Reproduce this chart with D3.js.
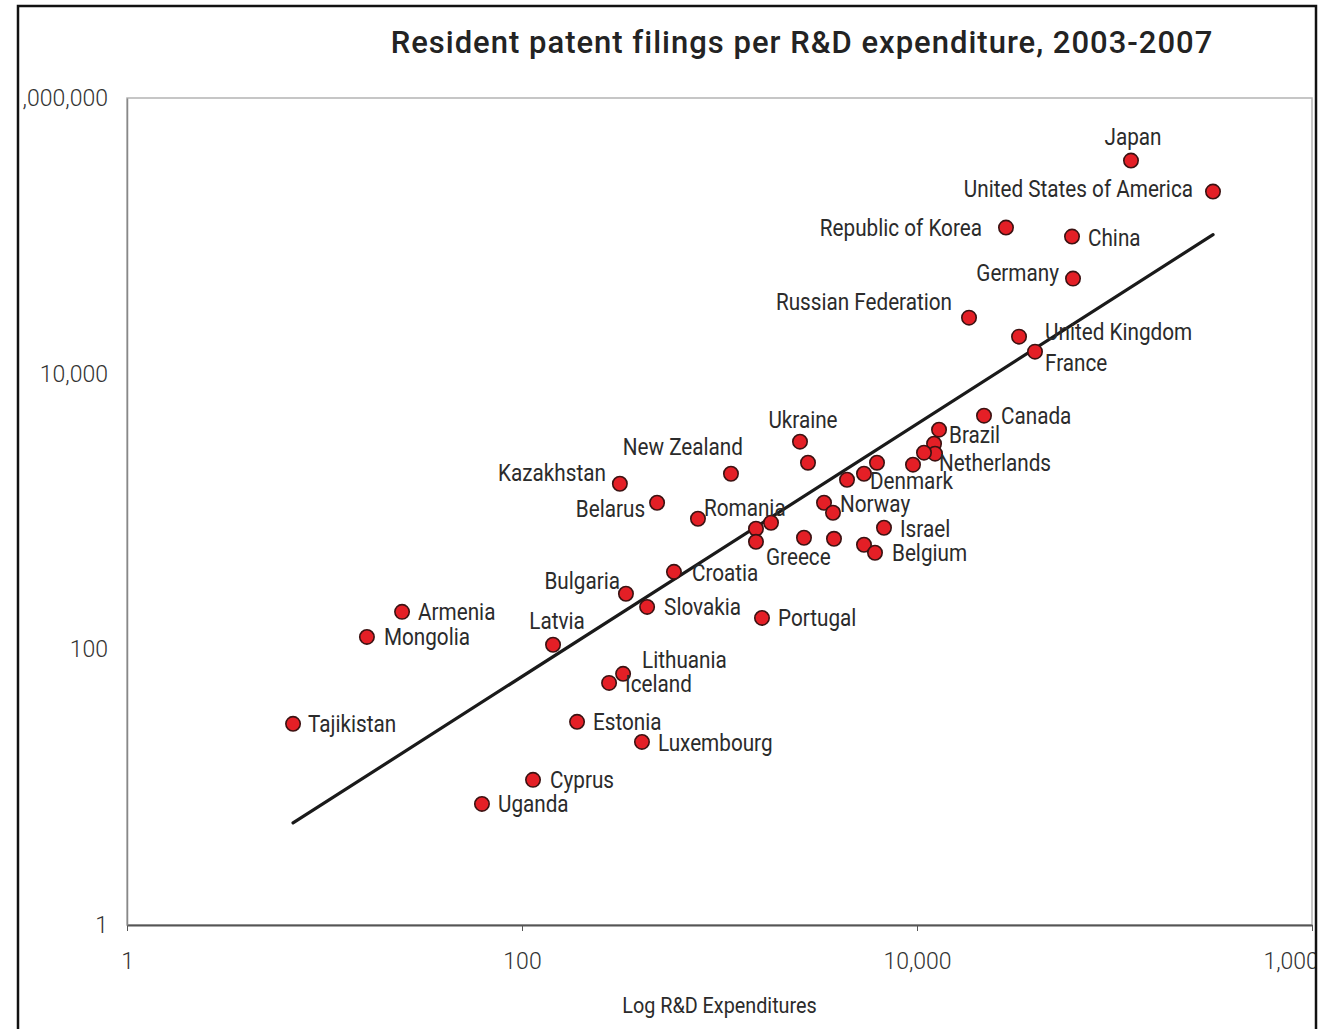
<!DOCTYPE html>
<html>
<head>
<meta charset="utf-8">
<script src="https://cdn.jsdelivr.net/npm/d3@7"></script>
<style>
  html, body { margin: 0; padding: 0; background: #fff; }
  svg { display: block; }
  .lbl { font-family: "Roboto", "Open Sans", "Noto Sans", sans-serif; fill: #2b2b2b; }
</style>
</head>
<body>
<svg id="chart" width="1329" height="1029"></svg>
<script>
// ---------------- DATA ----------------
const title = "Resident patent filings per R&D expenditure, 2003-2007";
const xAxisTitle = "Log R&D Expenditures";
const tickValues = [1, 100, 10000, 1000000];

const countries = [
  "Japan", "United States of America", "Republic of Korea", "China", "Germany",
  "Russian Federation", "United Kingdom", "France", "Canada", "Brazil",
  "", "Netherlands", "", "", "",
  "Denmark", "", "Ukraine", "", "New Zealand",
  "Kazakhstan", "Belarus", "Romania", "", "",
  "", "Norway", "", "Greece", "",
  "Israel", "", "Belgium", "Croatia", "Bulgaria",
  "Slovakia", "Portugal", "Armenia", "Mongolia", "Latvia",
  "Lithuania", "Iceland", "Tajikistan", "Estonia", "Luxembourg",
  "Cyprus", "Uganda"
];
// R&D expenditure (x)
const rdExpenditure = [
  121200, 315300, 28220, 60930, 61650,
  18340, 32860, 39580, 21840, 12930,
  12200, 12340, 10850, 9544, 6273,
  5390, 4422, 2556, 2806, 1143,
  313, 483, 778, 1530, 1823,
  1530, 3382, 3755, 2678, 3799,
  6806, 5390, 6128, 588, 336,
  430, 1641, 24.7, 16.4, 143.6,
  325, 276, 6.93, 190, 405,
  113.7, 62.7
];
// Resident patent filings (y)
const patentFilings = [
  351800, 209600, 114800, 98770, 48940,
  25500, 18560, 14450, 4956, 3922,
  3103, 2626, 2670, 2185, 2259,
  1879, 1700, 3209, 2259, 1879,
  1590, 1157, 886, 750, 829,
  603, 1157, 979, 645, 634,
  762, 574, 502, 365, 253,
  203, 169, 187, 123, 108,
  66.4, 57.1, 28.8, 29.8, 21.3,
  11.3, 7.56
];
// fitted trend line end points (x, y)
const trendX = [6.93, 315500];
const trendY = [5.5, 102000];

// ---------------- LAYOUT ----------------
// label placement relative to its marker: [anchor, dx, dy]
const labelPlacement = {
  "Japan": ["middle", 2, -16],
  "United States of America": ["end", -20, 5],
  "Republic of Korea": ["end", -24, 8],
  "China": ["start", 16, 9],
  "Germany": ["end", -14, 2],
  "Russian Federation": ["end", -17, -8],
  "United Kingdom": ["start", 26, 3],
  "France": ["start", 10, 19],
  "Canada": ["start", 17, 8],
  "Brazil": ["start", 10, 13],
  "Netherlands": ["start", 4, 17],
  "Denmark": ["start", 6, 15],
  "Ukraine": ["middle", 3, -14],
  "New Zealand": ["end", 12, -19],
  "Kazakhstan": ["end", -14, -3],
  "Belarus": ["end", -12, 14],
  "Romania": ["start", 6, -3],
  "Norway": ["start", 16, 9],
  "Greece": ["start", -38, 27],
  "Israel": ["start", 16, 9],
  "Belgium": ["start", 17, 8],
  "Croatia": ["start", 18, 9],
  "Bulgaria": ["end", -6, -5],
  "Slovakia": ["start", 17, 8],
  "Portugal": ["start", 16, 8],
  "Armenia": ["start", 16, 8],
  "Mongolia": ["start", 17, 8],
  "Latvia": ["middle", 4, -16],
  "Lithuania": ["start", 19, -6],
  "Iceland": ["start", 16, 9],
  "Tajikistan": ["start", 15, 8],
  "Estonia": ["start", 16, 8],
  "Luxembourg": ["start", 16, 9],
  "Cyprus": ["start", 17, 8],
  "Uganda": ["start", 16, 8]
};
const condense = 0.9; // horizontal squeeze to mimic the condensed typeface

const svg = d3.select("#chart");
const frame = { x: 18, y: 6, w: 1298, h: 1040 };
const plot = { left: 127, right: 1312, top: 98, bottom: 925 };

const defs = svg.append("defs");
defs.append("clipPath").attr("id", "frameClip")
  .append("rect").attr("x", frame.x + 1).attr("y", frame.y + 1)
  .attr("width", frame.w - 2).attr("height", frame.h);

const root = svg.append("g").attr("clip-path", "url(#frameClip)");

const x = d3.scaleLog().domain([1, 1e6]).range([plot.left, plot.right]);
const y = d3.scaleLog().domain([1, 1e6]).range([plot.bottom, plot.top]);

// plot border
root.append("rect")
  .attr("x", plot.left).attr("y", plot.top)
  .attr("width", plot.right - plot.left).attr("height", plot.bottom - plot.top)
  .attr("fill", "none").attr("stroke", "#b4b4b4").attr("stroke-width", 1.5);

// axes
const fmt = d3.format(",");
const xAxis = root.append("g")
  .attr("transform", `translate(0,${plot.bottom})`)
  .call(d3.axisBottom(x).tickValues(tickValues).tickFormat(fmt).tickSize(6).tickSizeOuter(0).tickPadding(22));
xAxis.select(".domain").attr("stroke", "#555").attr("stroke-width", 2);
xAxis.selectAll(".tick line").attr("stroke", "#555").attr("stroke-width", 1);
xAxis.selectAll("text").attr("class", "lbl").attr("font-size", 23).attr("font-weight", 300).style("fill", "#333");

const yAxis = root.append("g")
  .attr("transform", `translate(${plot.left},0)`)
  .call(d3.axisLeft(y).tickValues(tickValues).tickFormat(fmt).tickSize(0).tickSizeOuter(0).tickPadding(19));
yAxis.select(".domain").attr("stroke", "#888").attr("stroke-width", 1.5);
yAxis.selectAll("text").attr("class", "lbl").attr("font-size", 23).attr("font-weight", 300).style("fill", "#333");

// trend line
const trend = trendX.map((v, i) => [v, trendY[i]]);
root.append("path")
  .datum(trend)
  .attr("d", d3.line().x(d => x(d[0])).y(d => y(d[1])))
  .attr("fill", "none").attr("stroke", "#1a1a1a").attr("stroke-width", 3.2)
  .attr("stroke-linecap", "round");

// points
const data = countries.map((c, i) => ({ name: c, rd: rdExpenditure[i], pat: patentFilings[i] }));
root.append("g").selectAll("circle")
  .data(data).join("circle")
  .attr("cx", d => x(d.rd)).attr("cy", d => y(d.pat))
  .attr("r", 7.2)
  .attr("fill", "#e41f26").attr("stroke", "#3b1212").attr("stroke-width", 1.6);

// labels
root.append("g").selectAll("text")
  .data(data.filter(d => d.name && labelPlacement[d.name])).join("text")
  .attr("class", "lbl")
  .attr("font-size", 23)
  .attr("transform", d => `translate(${x(d.rd) + labelPlacement[d.name][1]},${y(d.pat) + labelPlacement[d.name][2]}) scale(${condense},1)`)
  .attr("text-anchor", d => labelPlacement[d.name][0])
  .text(d => d.name);

// title
root.append("text")
  .attr("class", "lbl")
  .attr("x", 802).attr("y", 53)
  .attr("text-anchor", "middle")
  .attr("font-size", 31).attr("font-weight", 500)
  .attr("letter-spacing", 1)
  .style("fill", "#232323")
  .text(title);

// axis title
root.append("text")
  .attr("class", "lbl")
  .attr("transform", `translate(${(plot.left + plot.right) / 2},1013) scale(${condense},1)`)
  .attr("text-anchor", "middle")
  .attr("font-size", 22)
  .text(xAxisTitle);

// outer frame
svg.append("rect")
  .attr("x", frame.x).attr("y", frame.y)
  .attr("width", frame.w).attr("height", frame.h)
  .attr("fill", "none").attr("stroke", "#111").attr("stroke-width", 2.5);
</script>
</body>
</html>
